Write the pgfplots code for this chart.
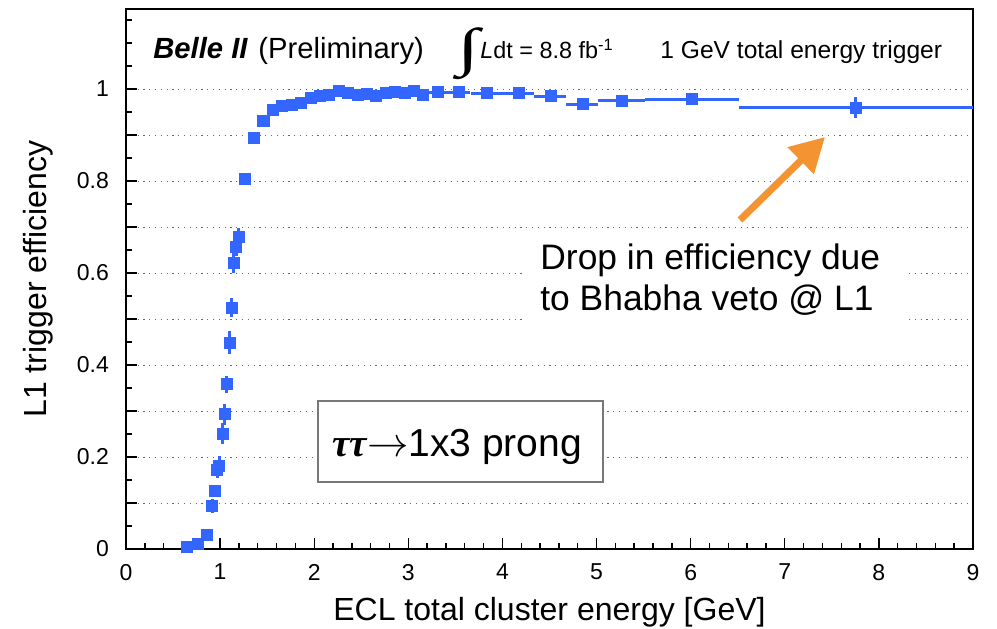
\documentclass[border=0pt]{standalone}
\usepackage{pgfplots}
\pgfplotsset{compat=1.18}
\usepackage{pgfplotstable}
\usepackage{fontspec}
\setmainfont{Liberation Sans}
\newfontfamily\serifgreek{Liberation Serif}
\usepackage{graphicx}
\usetikzlibrary{arrows.meta}
\definecolor{rootblue}{RGB}{51,102,255}
\definecolor{arroworange}{RGB}{244,147,49}
\definecolor{gridgray}{RGB}{105,105,105}
\definecolor{boxgray}{RGB}{120,120,120}

\pgfplotstableread{
x      y      ex      ey
0.652  0.004  0.05    0.002
0.759  0.012  0.05    0.003
0.855  0.030  0.05    0.005
0.918  0.093  0.0125  0.015
0.940  0.126  0.0125  0.012
0.971  0.172  0.0125  0.018
0.989  0.180  0.0125  0.022
1.025  0.251  0.0125  0.022
1.046  0.293  0.0125  0.023
1.067  0.358  0.0125  0.019
1.099  0.449  0.0125  0.026
1.121  0.525  0.0125  0.020
1.142  0.623  0.0125  0.022
1.173  0.656  0.0125  0.020
1.195  0.678  0.0125  0.020
1.26   0.804  0.05    0.008
1.36   0.893  0.05    0.006
1.46   0.930  0.05    0.005
1.56   0.954  0.05    0.004
1.66   0.963  0.05    0.004
1.76   0.965  0.05    0.004
1.86   0.969  0.05    0.004
1.96   0.980  0.05    0.003
2.06   0.985  0.05    0.003
2.16   0.987  0.05    0.003
2.26   0.995  0.05    0.003
2.36   0.991  0.05    0.003
2.46   0.987  0.05    0.003
2.56   0.989  0.05    0.003
2.66   0.984  0.05    0.003
2.76   0.991  0.05    0.003
2.86   0.993  0.05    0.003
2.96   0.991  0.05    0.003
3.06   0.997  0.05    0.003
3.16   0.988  0.05    0.003
3.31   0.993  0.10    0.003
3.535  0.993  0.125   0.003
3.835  0.991  0.165   0.003
4.17   0.991  0.17    0.003
4.51   0.984  0.17    0.004
4.85   0.967  0.17    0.005
5.265  0.975  0.245   0.005
6.01   0.978  0.50    0.006
7.755  0.960  1.245   0.022
}\effdata

\begin{document}
\begin{tikzpicture}
\path[use as bounding box] (-63pt,-39.5pt) rectangle (435.5pt,274.5pt);
\begin{axis}[
  at={(0pt,0pt)}, anchor=south west,
  scale only axis, width=423.5pt, height=270pt,
  xmin=0, xmax=9, ymin=0, ymax=1.174,
  xtick={0,1,2,3,4,5,6,7,8,9}, minor x tick num=4,
  ytick={0,0.1,0.2,0.3,0.4,0.5,0.6,0.7,0.8,0.9,1},
  yticklabels={0,,0.2,,0.4,,0.6,,0.8,,1},
  minor ytick={0.05,0.15,0.25,0.35,0.45,0.55,0.65,0.75,0.85,0.95,1.05,1.1,1.15},
  tick pos=left, tick align=inside,
  major tick length=5.5pt, minor tick length=2.8pt,
  every tick/.style={black, line width=0.7pt},
  axis line style={line width=1pt},
  ymajorgrids,
  major grid style={gridgray, line width=0.5pt, dash pattern=on 0.6pt off 2.3pt},
  tick label style={font=\fontsize{11.5}{13}\selectfont},
  /pgf/number format/assume math mode=true,
  yticklabel style={xshift=-5pt},
  xticklabel style={yshift=-4pt},
  xlabel={ECL total cluster energy [GeV]},
  ylabel={L1 trigger efficiency},
  label style={font=\fontsize{16}{18}\selectfont},
  xlabel style={at={(axis description cs:0.5,-0.1333)}, anchor=base},
  ylabel style={at={(axis description cs:-0.0933,0.5)}, anchor=base},
]
\addplot[rootblue, only marks, mark=square*, mark size=2.75pt,
  mark options={draw=none, fill=rootblue},
  error bars/.cd, x dir=both, x explicit, y dir=both, y explicit,
  error bar style={line width=1.5pt, rootblue}, error mark=none]
  table[x=x, y=y, x error=ex, y error=ey] {\effdata};
\end{axis}

% annotation box: Bhabha veto
\fill[white] (199.5pt,107pt) rectangle (391pt,154.5pt);
\node[anchor=base west, inner sep=0pt] at (207pt,139.5pt) {\fontsize{17.7}{20}\selectfont Drop in efficiency due};
\node[anchor=base west, inner sep=0pt] at (207pt,119.5pt) {\fontsize{17.7}{20}\selectfont to Bhabha veto @ L1};
\draw[arroworange, line width=3.5pt, -{Triangle[length=17pt,width=18pt]}] (307pt,164.5pt) -- (349.5pt,206pt);

% channel box
\draw[boxgray, line width=1pt, fill=white] (96pt,33.5pt) rectangle (238.5pt,74pt);
\node[anchor=base west, inner sep=0pt] at (103pt,46.5pt) {\fontsize{19.5}{21}\selectfont{\serifgreek\bfseries\itshape ττ}$\rightarrow$1x3 prong};

% header texts
\node[anchor=base west, inner sep=0pt] at (13.5pt,245pt) {\fontsize{14.6}{17}\selectfont\bfseries\itshape Belle II};
\node[anchor=base west, inner sep=0pt] at (66pt,245pt) {\fontsize{14.6}{17}\selectfont (Preliminary)};
\node[anchor=west, inner sep=0pt] at (165.5pt,247.5pt) {\resizebox*{11pt}{26pt}{\serifgreek ∫}};
\node[anchor=base west, inner sep=0pt] at (177pt,245pt) {\fontsize{11.7}{14}\selectfont\textit{L}dt = 8.8 fb\textsuperscript{-1}};
\node[anchor=base west, inner sep=0pt] at (267pt,245pt) {\fontsize{12.3}{14}\selectfont 1 GeV total energy trigger};
\end{tikzpicture}
\end{document}
